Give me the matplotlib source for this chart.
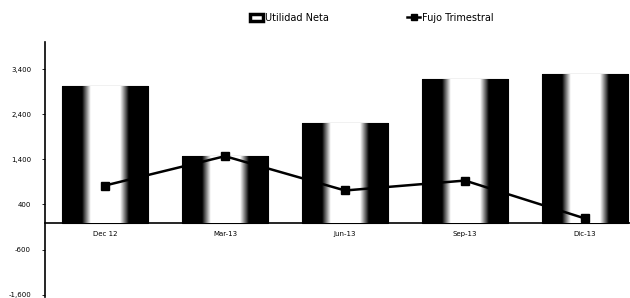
import numpy as np
import matplotlib
matplotlib.use("Agg")
import matplotlib.pyplot as plt
from matplotlib.patches import Patch
from matplotlib.lines import Line2D

categorias = ["Dec 12", "Mar-13", "Jun-13", "Sep-13", "Dic-13"]
utilidad_neta = [3020, 1470, 2200, 3180, 3290]
flujo_trimestral = [820, 1470, 710, 930, 90]
yticks = [-1600, -600, 400, 1400, 2400, 3400]

fig = plt.figure(figsize=(6.3, 2.98), dpi=100)
ax = fig.add_axes([45 / 630, 1 / 298, 600 / 630, 255 / 298])

x = np.arange(len(categorias))
bars = ax.bar(x, utilidad_neta, width=0.72, color="black", edgecolor="black",
              linewidth=0.8, zorder=2)

# relleno tipo cilindro: negro en los lados, blanco al centro
t = np.linspace(0, 1, 200)
perfil = np.clip((0.5 - np.abs(t - 0.5)) * 10 - 2.3, 0, 1)
grad = perfil[np.newaxis, :]
for b in bars:
    x0, y0 = b.get_x(), b.get_y()
    w, h = b.get_width(), b.get_height()
    im = ax.imshow(grad, cmap="gray", vmin=0, vmax=1, aspect="auto",
                   extent=[x0, x0 + w, y0, y0 + h], zorder=3,
                   interpolation="bilinear")
    im.set_clip_path(b)

ax.plot(x, flujo_trimestral, color="black", lw=1.8, marker="s",
        markersize=5.5, zorder=5)

for s in ["top", "right"]:
    ax.spines[s].set_visible(False)
ax.spines["bottom"].set_position(("data", 0))
ax.spines["bottom"].set_linewidth(1.2)
ax.spines["left"].set_linewidth(1.2)

ax.set_xlim(-0.5, len(categorias) - 0.5)
ax.set_ylim(-1650, 4000)
ax.set_yticks(yticks)
ax.set_yticklabels([f"{v:,}" for v in yticks])
ax.set_xticks(x)
ax.set_xticklabels(categorias)
ax.tick_params(axis="x", length=0, pad=6, labelsize=5)
ax.tick_params(axis="y", length=2, width=0.6, pad=8, labelsize=5)

handles = [Patch(facecolor="white", edgecolor="black", linewidth=2.5),
           Line2D([0], [0], color="black", lw=1.8, marker="s", markersize=4)]
fig.legend(handles, ["Utilidad Neta", "Fujo Trimestral"], loc="center",
           bbox_to_anchor=(0.59, 0.94), ncol=2, frameon=False, fontsize=7,
           columnspacing=8, handlelength=1.4, handletextpad=0.2)

fig.savefig("out.png", dpi=100)
